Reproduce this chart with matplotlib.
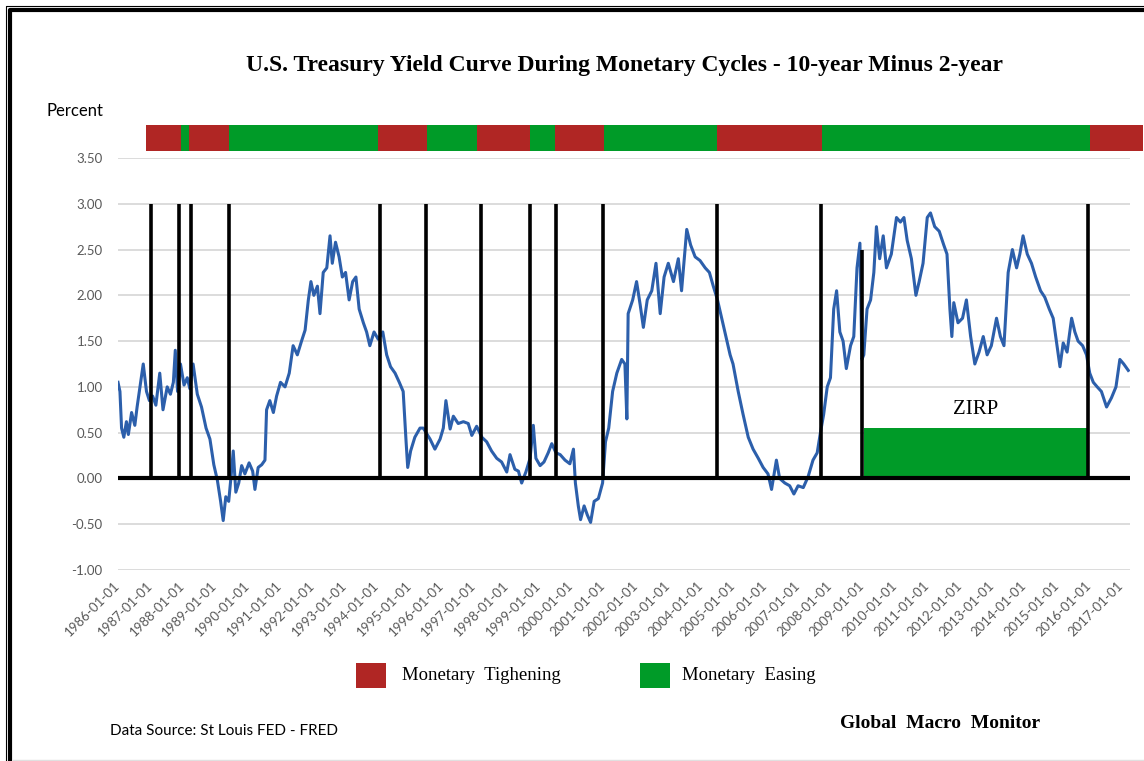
import matplotlib
matplotlib.use("Agg")
import matplotlib.pyplot as plt
from matplotlib.patches import Rectangle
from matplotlib.lines import Line2D

# 10-year minus 2-year spread (decimal year, percent)
spread_years = [
    1986.00, 1986.06, 1986.11, 1986.18, 1986.26, 1986.32, 1986.42, 1986.52, 1986.59, 1986.70,
    1986.78, 1986.88, 1986.97, 1987.07, 1987.17, 1987.29, 1987.39, 1987.52, 1987.62, 1987.71,
    1987.77, 1987.84, 1987.93, 1988.04, 1988.14, 1988.22, 1988.32, 1988.45, 1988.58, 1988.72,
    1988.84, 1988.96, 1989.07, 1989.17, 1989.25, 1989.33, 1989.42, 1989.50, 1989.56, 1989.64,
    1989.73, 1989.82, 1989.92, 1990.05, 1990.16, 1990.23, 1990.33, 1990.44, 1990.54, 1990.59,
    1990.69, 1990.80, 1990.90, 1991.02, 1991.16, 1991.29, 1991.41, 1991.54, 1991.67, 1991.78,
    1991.88, 1991.96, 1992.05, 1992.16, 1992.24, 1992.34, 1992.45, 1992.55, 1992.62, 1992.72,
    1992.83, 1992.93, 1993.03, 1993.14, 1993.25, 1993.35, 1993.45, 1993.58, 1993.68, 1993.78,
    1993.91, 1994.04, 1994.18, 1994.30, 1994.42, 1994.56, 1994.69, 1994.81, 1994.90, 1994.95,
    1995.04, 1995.17, 1995.33, 1995.43, 1995.64, 1995.79, 1995.95, 1996.05, 1996.13, 1996.26,
    1996.36, 1996.51, 1996.67, 1996.82, 1996.93, 1997.08, 1997.24, 1997.39, 1997.54, 1997.70,
    1997.85, 1998.01, 1998.11, 1998.26, 1998.37, 1998.47, 1998.60, 1998.73, 1998.83, 1998.91,
    1999.04, 1999.16, 1999.29, 1999.40, 1999.53, 1999.66, 1999.81, 1999.96, 2000.07, 2000.13,
    2000.22, 2000.29, 2000.40, 2000.50, 2000.60, 2000.71, 2000.84, 2000.97, 2001.06, 2001.16,
    2001.28, 2001.41, 2001.56, 2001.66, 2001.72, 2001.76, 2001.90, 2002.02, 2002.13, 2002.23,
    2002.35, 2002.49, 2002.62, 2002.75, 2002.87, 2003.00, 2003.16, 2003.31, 2003.41, 2003.57,
    2003.69, 2003.83, 2003.98, 2004.14, 2004.27, 2004.39, 2004.52, 2004.65, 2004.78, 2004.91,
    2005.00, 2005.16, 2005.31, 2005.47, 2005.62, 2005.78, 2005.93, 2006.08, 2006.19, 2006.34,
    2006.44, 2006.60, 2006.75, 2006.88, 2007.01, 2007.17, 2007.32, 2007.47, 2007.60, 2007.70,
    2007.80, 2007.91, 2008.01, 2008.11, 2008.20, 2008.30, 2008.40, 2008.50, 2008.63, 2008.73,
    2008.83, 2008.92, 2008.98, 2009.04, 2009.14, 2009.25, 2009.35, 2009.43, 2009.53, 2009.64,
    2009.74, 2009.89, 2010.05, 2010.17, 2010.28, 2010.38, 2010.51, 2010.65, 2010.75, 2010.87,
    2011.00, 2011.10, 2011.23, 2011.37, 2011.51, 2011.61, 2011.70, 2011.76, 2011.82, 2011.95,
    2012.09, 2012.21, 2012.34, 2012.47, 2012.60, 2012.73, 2012.85, 2012.98, 2013.14, 2013.26,
    2013.37, 2013.50, 2013.63, 2013.76, 2013.86, 2013.96, 2014.09, 2014.22, 2014.35, 2014.50,
    2014.63, 2014.77, 2014.89, 2014.99, 2015.10, 2015.20, 2015.32, 2015.46, 2015.56, 2015.66,
    2015.80, 2015.92, 2016.02, 2016.13, 2016.25, 2016.38, 2016.54, 2016.69, 2016.83, 2016.95,
    2017.07, 2017.21,
]
spread_values = [
    1.05, 0.95, 0.55, 0.45, 0.62, 0.48, 0.72, 0.58, 0.78, 1.05,
    1.25, 0.95, 0.85, 0.90, 0.80, 1.15, 0.75, 1.00, 0.92, 1.05,
    1.40, 0.95, 1.25, 1.02, 1.10, 0.98, 1.25, 0.92, 0.78, 0.55,
    0.43, 0.15, -0.02, -0.25, -0.46, -0.20, -0.25, 0.05, 0.30, -0.15,
    -0.05, 0.14, 0.05, 0.17, 0.08, -0.12, 0.12, 0.15, 0.20, 0.75,
    0.85, 0.72, 0.90, 1.05, 1.00, 1.15, 1.45, 1.35, 1.50, 1.62,
    1.95, 2.15, 2.00, 2.10, 1.80, 2.25, 2.30, 2.65, 2.35, 2.58,
    2.42, 2.20, 2.25, 1.95, 2.15, 2.20, 1.85, 1.70, 1.60, 1.45,
    1.60, 1.52, 1.60, 1.35, 1.22, 1.15, 1.05, 0.95, 0.40, 0.12,
    0.30, 0.45, 0.55, 0.55, 0.43, 0.32, 0.43, 0.55, 0.85, 0.54,
    0.68, 0.60, 0.62, 0.60, 0.47, 0.57, 0.45, 0.40, 0.30, 0.22,
    0.18, 0.07, 0.26, 0.10, 0.08, -0.05, 0.07, 0.22, 0.58, 0.22,
    0.14, 0.18, 0.28, 0.38, 0.28, 0.26, 0.20, 0.16, 0.32, -0.05,
    -0.30, -0.45, -0.30, -0.40, -0.48, -0.25, -0.22, -0.05, 0.40, 0.55,
    0.95, 1.15, 1.30, 1.25, 0.65, 1.80, 1.95, 2.15, 1.90, 1.65,
    1.95, 2.05, 2.35, 1.80, 2.20, 2.35, 2.15, 2.40, 2.05, 2.72,
    2.55, 2.42, 2.38, 2.30, 2.25, 2.10, 1.95, 1.75, 1.55, 1.35,
    1.25, 0.95, 0.70, 0.45, 0.32, 0.22, 0.12, 0.05, -0.12, 0.20,
    0.00, -0.05, -0.08, -0.17, -0.08, -0.10, 0.02, 0.20, 0.28, 0.50,
    0.70, 1.00, 1.10, 1.85, 2.05, 1.60, 1.50, 1.20, 1.45, 1.55,
    2.30, 2.57, 1.30, 1.35, 1.85, 1.95, 2.25, 2.75, 2.40, 2.65,
    2.30, 2.45, 2.85, 2.80, 2.85, 2.60, 2.40, 2.00, 2.15, 2.35,
    2.85, 2.90, 2.75, 2.70, 2.55, 2.45, 1.85, 1.55, 1.92, 1.70,
    1.75, 1.95, 1.55, 1.25, 1.38, 1.55, 1.35, 1.45, 1.75, 1.55,
    1.45, 2.25, 2.50, 2.30, 2.45, 2.65, 2.45, 2.35, 2.20, 2.05,
    1.98, 1.85, 1.75, 1.50, 1.22, 1.48, 1.38, 1.75, 1.60, 1.50,
    1.45, 1.35, 1.15, 1.05, 1.00, 0.95, 0.78, 0.88, 1.00, 1.30,
    1.25, 1.18,
]

# turning points of monetary policy (vertical black lines)
cycle_dates = [1987.02, 1987.87, 1988.24, 1989.43, 1994.09, 1995.51, 1997.21,
               1998.72, 1999.52, 2000.98, 2004.50, 2007.71, 2008.98, 2015.96]
cycle_tops = [3.0, 3.0, 3.0, 3.0, 3.0, 3.0, 3.0, 3.0, 3.0, 3.0, 3.0, 3.0, 2.5, 3.0]

# top band: tightening (red) / easing (green) periods
band_edges = [1986.86, 1987.94, 1988.19, 1989.43, 1994.03, 1995.54, 1997.09,
              1998.73, 1999.50, 2001.01, 2004.52, 2007.76, 2016.04, 2017.66]
band_kinds = ["tight", "ease", "tight", "ease", "tight", "ease", "tight",
              "ease", "tight", "ease", "tight", "ease", "tight"]

zirp_start = 2009.04
zirp_end = 2015.96
zirp_level = 0.55

year_ticks = list(range(1986, 2018))
y_ticks = [-1.0, -0.5, 0.0, 0.5, 1.0, 1.5, 2.0, 2.5, 3.0, 3.5]

RED = "#B02624"
GREEN = "#009B28"
BLUE = "#2C5FAB"
SANS = ["Lato", "DejaVu Sans"]
SERIF = ["Liberation Serif", "DejaVu Serif"]

W, H = 1144, 761
fig = plt.figure(figsize=(W / 100, H / 100), dpi=100)
fig.patch.set_facecolor("white")

# plot area in pixels: x 118..1130, y 158 (3.5) .. 570 (-1.0)
x_lo, x_hi = 1986.0, 2017.25
left = 118 / W
right = 118 + (x_hi - x_lo) * 32.37
ax = fig.add_axes([left, (H - 570) / H, (right - 118) / W, 412 / H])
ax.set_xlim(x_lo, x_hi)
ax.set_ylim(-1.0, 3.5)
ax.patch.set_visible(False)
for s in ax.spines.values():
    s.set_visible(False)

ax.set_yticks(y_ticks)
ax.set_yticklabels([f"{v:.2f}" for v in y_ticks])
ax.yaxis.grid(True, color="#D9D9D9", linewidth=1.3)
ax.set_axisbelow(True)
ax.tick_params(axis="y", length=0, pad=11, labelsize=9.5, labelcolor="#595959")
for lab in ax.get_yticklabels():
    lab.set_family(SANS)

ax.set_xticks(year_ticks)
ax.set_xticklabels([f"{y}-01-01" for y in year_ticks], rotation=45,
                   ha="right", va="center", rotation_mode="anchor")
ax.tick_params(axis="x", length=0, pad=10, labelsize=9.5, labelcolor="#595959")
for lab in ax.get_xticklabels():
    lab.set_family(SANS)

# ZIRP block
ax.add_patch(Rectangle((zirp_start, 0), zirp_end - zirp_start, zirp_level,
                       facecolor=GREEN, edgecolor="none", zorder=2))
ax.text((zirp_start + zirp_end) / 2, zirp_level + 0.2, "ZIRP", ha="center",
        va="center", fontsize=15, family=SERIF, color="black")

ax.plot(spread_years, spread_values, color=BLUE, linewidth=2.2, zorder=3)

ax.axhline(0, color="black", linewidth=3, zorder=4)
ax.vlines(cycle_dates, 0, cycle_tops, color="black", linewidth=2.6, zorder=5)

# top band above the plot
for i, kind in enumerate(band_kinds):
    x0, x1 = band_edges[i], band_edges[i + 1]
    ax.add_patch(Rectangle((x0, 3.571), x1 - x0, 0.284,
                           facecolor=RED if kind == "tight" else GREEN,
                           edgecolor="none", clip_on=False, zorder=2))

# overlay in pixel coordinates for frame, titles, legend
ov = fig.add_axes([0, 0, 1, 1])
ov.set_xlim(0, W)
ov.set_ylim(H, 0)
ov.axis("off")

ov.add_line(Line2D([5.5, 5.5, W + 5], [H + 5, 5.5, 5.5], color="black", linewidth=0.8))
ov.add_line(Line2D([10, 10, W + 5], [H + 5, 10, 10], color="black", linewidth=3))
ov.add_line(Line2D([13, W], [H - 1.5, H - 1.5], color="#E0E0E0", linewidth=1))

ov.text(625, 66, "U.S. Treasury Yield Curve During Monetary Cycles - 10-year Minus 2-year",
        ha="center", va="center", fontsize=17, fontweight="bold", family=SERIF)
ov.text(46, 111, "Percent", ha="left", va="center", fontsize=12, family=SANS)

ov.add_patch(Rectangle((356, 663), 30, 25, facecolor=RED, edgecolor="none"))
ov.text(402, 676, "Monetary  Tighening", ha="left", va="center", fontsize=13.5, family=SERIF)
ov.add_patch(Rectangle((640, 663), 30, 25, facecolor=GREEN, edgecolor="none"))
ov.text(682, 676, "Monetary  Easing", ha="left", va="center", fontsize=13.5, family=SERIF)

ov.text(110, 731, "Data Source: St Louis FED - FRED", ha="left", va="center",
        fontsize=11, family=SANS)
ov.text(940, 724, "Global  Macro  Monitor", ha="center", va="center", fontsize=14,
        fontweight="bold", family=SERIF)

fig.savefig("out.png", dpi=100)
